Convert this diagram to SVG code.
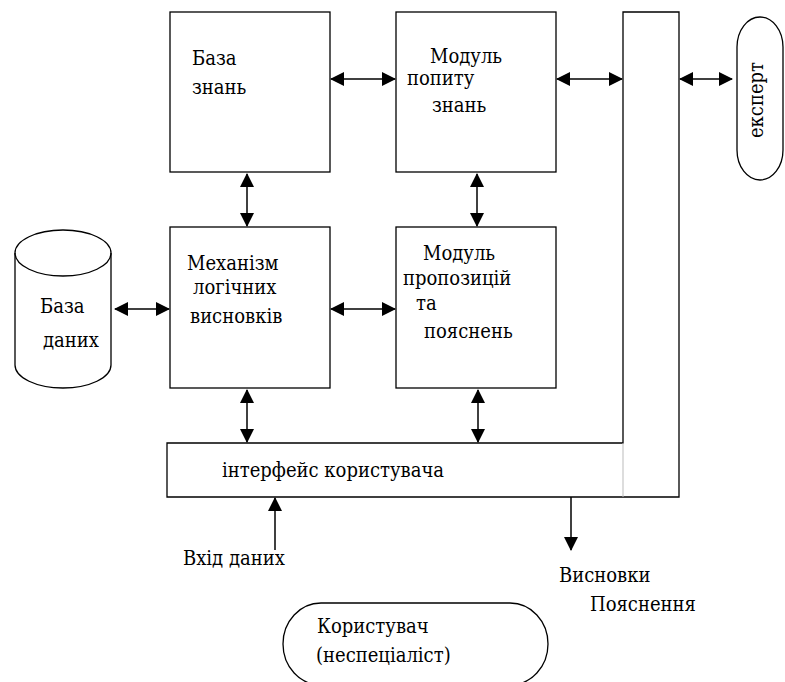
<svg xmlns="http://www.w3.org/2000/svg" width="785" height="682" viewBox="0 0 785 682">
<defs>
<marker id="ah" markerWidth="14" markerHeight="14" refX="13" refY="7" orient="auto-start-reverse" markerUnits="userSpaceOnUse">
<path d="M0,0 L14,7 L0,14 Z" fill="#000"/>
</marker>
<style>
.box{fill:#fff;stroke:#000;stroke-width:1.3}
.t{font-family:"DejaVu Serif Condensed","DejaVu Serif","Liberation Serif",serif;font-stretch:condensed;font-size:20px;fill:#000}
.c{stroke:#000;stroke-width:1.5;fill:none}
</style>
</defs>
<rect width="785" height="682" fill="#fff"/>
<g id="kb">
<rect class="box" x="170" y="12" width="160" height="160"/>
<text class="t" x="192" y="65">База</text>
<text class="t" x="192" y="94">знань</text>
</g>
<g id="query">
<rect class="box" x="396" y="12" width="160" height="160"/>
<text class="t" x="430" y="63">Модуль</text>
<text class="t" x="407" y="85">попиту</text>
<text class="t" x="432" y="112">знань</text>
</g>
<g id="inference">
<rect class="box" x="170" y="227" width="160" height="161"/>
<text class="t" x="187" y="270">Механізм</text>
<text class="t" x="193" y="294">логічних</text>
<text class="t" x="190" y="323">висновків</text>
</g>
<g id="explain">
<rect class="box" x="396" y="227" width="160" height="161"/>
<text class="t" x="423" y="260">Модуль</text>
<text class="t" x="403" y="285">пропозицій</text>
<text class="t" x="416" y="310">та</text>
<text class="t" x="424" y="338">пояснень</text>
</g>
<g id="db">
<path class="box" d="M15,253 A48,23 0 0 1 111,253 V365 A48,23 0 0 1 15,365 Z"/>
<path class="c" style="stroke-width:1.3" d="M15,253 A48,23 0 0 0 111,253"/>
<text class="t" x="40" y="313">База</text>
<text class="t" x="43" y="347">даних</text>
</g>
<g id="interface">
<path class="box" d="M167,443 H623 V12 H679 V497 H167 Z"/>
<line x1="623" y1="443" x2="623" y2="497" stroke="#bbb" stroke-width="1"/>
<text class="t" x="222" y="477">інтерфейс користувача</text>
</g>
<g id="expert">
<rect class="box" x="737" y="17" width="46" height="163" rx="23" ry="30"/>
<text class="t" transform="translate(763,100) rotate(-90)" text-anchor="middle">експерт</text>
</g>
<g id="user">
<rect class="box" x="283" y="603" width="265" height="82" rx="38" ry="41"/>
<text class="t" x="317" y="633">Користувач</text>
<text class="t" x="316" y="662">(неспеціаліст)</text>
</g>
<g id="labels">
<text class="t" x="183" y="565">Вхід даних</text>
<text class="t" x="559" y="582">Висновки</text>
<text class="t" x="590" y="611">Пояснення</text>
</g>
<g id="connectors">
<line class="c" x1="331" y1="79" x2="395" y2="79" marker-start="url(#ah)" marker-end="url(#ah)"/>
<line class="c" x1="557" y1="79" x2="622" y2="79" marker-start="url(#ah)" marker-end="url(#ah)"/>
<line class="c" x1="680" y1="79" x2="732" y2="79" marker-start="url(#ah)" marker-end="url(#ah)"/>
<line class="c" x1="247" y1="174" x2="247" y2="226" marker-start="url(#ah)" marker-end="url(#ah)"/>
<line class="c" x1="477" y1="174" x2="477" y2="226" marker-start="url(#ah)" marker-end="url(#ah)"/>
<line class="c" x1="115" y1="309" x2="169" y2="309" marker-start="url(#ah)" marker-end="url(#ah)"/>
<line class="c" x1="331" y1="309" x2="395" y2="309" marker-start="url(#ah)" marker-end="url(#ah)"/>
<line class="c" x1="247" y1="390" x2="247" y2="442" marker-start="url(#ah)" marker-end="url(#ah)"/>
<line class="c" x1="478" y1="390" x2="478" y2="442" marker-start="url(#ah)" marker-end="url(#ah)"/>
<line class="c" x1="275" y1="550" x2="275" y2="498" marker-end="url(#ah)"/>
<line class="c" x1="571" y1="497" x2="571" y2="550" marker-end="url(#ah)"/>
</g>
</svg>
